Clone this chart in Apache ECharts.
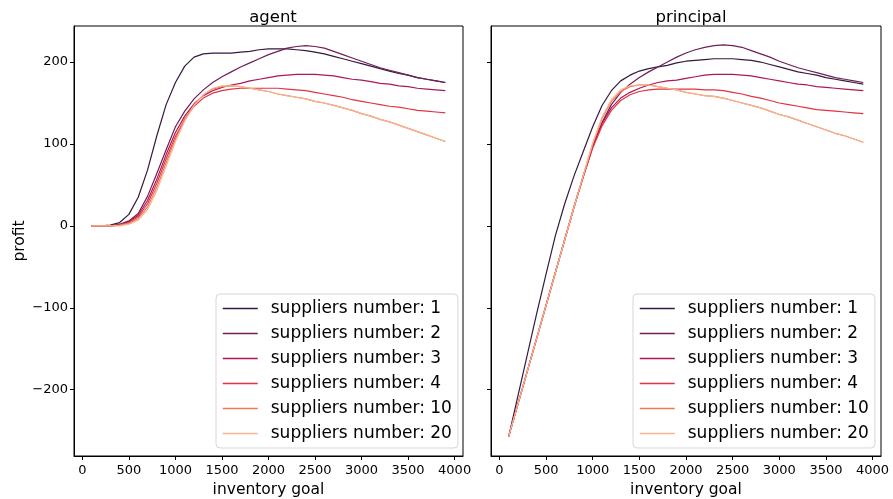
<!DOCTYPE html>
<html>
<head>
<meta charset="utf-8">
<script src="https://cdn.jsdelivr.net/npm/echarts@6/dist/echarts.min.js"></script>
<style>
  html, body { margin: 0; padding: 0; background: #fff; }
  #chart { width: 893px; height: 499px; }
</style>
</head>
<body>
<div id="chart"></div>
<script>
  // inventory goal values (x)
  var goals = [100, 200, 300, 400, 500, 600, 700, 800, 900, 1000, 1100, 1200, 1300, 1400, 1500, 1600, 1700, 1800, 1900, 2000,
    2100, 2200, 2300, 2400, 2500, 2600, 2700, 2800, 2900, 3000, 3100, 3200, 3300, 3400, 3500, 3600, 3700, 3800, 3900];

  var names = ['suppliers number: 1', 'suppliers number: 2', 'suppliers number: 3',
    'suppliers number: 4', 'suppliers number: 10', 'suppliers number: 20'];
  var colors = ['#35193e', '#701f57', '#ad1759', '#e13342', '#f37651', '#f6b48f'];

  // agent profit
  var agent1 = [0, 0, 1, 4, 14, 35, 68, 110, 148, 175, 195, 206, 210, 211, 211, 211, 212, 213, 215, 216,
    216, 216, 215, 214, 212, 210, 207, 204, 201, 198, 195, 192, 189, 186, 184, 181, 179, 177, 175];
  var agent2 = [0, 0, 0, 2, 6, 15, 36, 64, 93, 121, 140, 155, 166, 175, 182, 188, 194, 199, 204, 209,
    213, 217, 219, 220, 219, 217, 213, 209, 205, 201, 197, 193, 190, 187, 184, 181, 179, 177, 175];
  var agent3 = [0, 0, 0, 1, 5, 13, 31, 57, 87, 114, 134, 149, 159, 165, 169, 172, 174, 177, 179, 181,
    183, 184, 185, 185, 185, 184, 183, 181, 179, 178, 176, 174, 173, 171, 170, 168, 167, 166, 165];
  var agent4 = [0, 0, 0, 1, 4, 11, 27, 52, 82, 109, 130, 146, 156, 162, 165, 167, 168, 168, 168, 168,
    168, 167, 166, 165, 163, 161, 159, 157, 154, 152, 150, 148, 146, 145, 143, 141, 140, 139, 138];
  var agent10 = [0, 0, 0, 1, 3, 9, 23, 47, 77, 106, 130, 148, 160, 167, 170, 171, 170, 168, 166, 164,
    161, 159, 157, 155, 152, 150, 147, 144, 141, 137, 134, 130, 127, 123, 119, 115, 111, 107, 103];
  var agent20 = [0, 0, 0, 0, 2, 7, 20, 43, 73, 103, 128, 147, 160, 168, 171, 171, 170, 168, 166, 164,
    161, 159, 157, 155, 152, 150, 147, 144, 141, 137, 134, 130, 127, 123, 119, 115, 111, 107, 103];

  // principal profit
  var principal1 = [-257, -207, -157, -107, -59, -12, 27, 61, 91, 121, 147, 165, 177, 184, 189, 192, 194, 196, 199, 201,
    202, 203, 204, 204, 204, 203, 202, 200, 197, 194, 191, 188, 186, 184, 181, 179, 177, 175, 173];
  var principal2 = [-257, -217, -177, -137, -97, -57, -17, 23, 61, 97, 126, 148, 163, 173, 181, 188, 194, 200, 206, 211,
    215, 218, 220, 221, 220, 218, 214, 210, 206, 201, 197, 193, 190, 187, 184, 181, 179, 177, 175];
  var principal3 = [-257, -217, -177, -137, -97, -57, -17, 23, 61, 97, 125, 144, 156, 163, 168, 172, 175, 177, 178, 180,
    182, 184, 185, 185, 185, 184, 183, 181, 179, 177, 175, 173, 172, 170, 169, 168, 167, 166, 165];
  var principal4 = [-257, -217, -177, -137, -97, -57, -17, 23, 60, 95, 122, 141, 153, 160, 164, 166, 167, 167, 167, 167,
    167, 166, 166, 165, 163, 161, 158, 156, 153, 150, 148, 146, 144, 142, 141, 140, 139, 138, 137];
  var principal10 = [-257, -217, -177, -137, -97, -57, -17, 23, 62, 100, 131, 152, 164, 170, 172, 172, 170, 168, 166, 163,
    161, 159, 158, 156, 153, 150, 147, 144, 140, 136, 133, 129, 125, 121, 117, 113, 110, 106, 102];
  var principal20 = [-257, -217, -177, -137, -97, -57, -17, 23, 62, 101, 133, 154, 166, 171, 172, 172, 170, 168, 166, 163,
    161, 159, 158, 156, 153, 150, 147, 144, 140, 136, 133, 129, 125, 121, 117, 113, 110, 106, 102];

  var xTicks = [0, 500, 1000, 1500, 2000, 2500, 3000, 3500, 4000];
  var yTicks = [-200, -100, 0, 100, 200];

  var agentData = [agent1, agent2, agent3, agent4, agent10, agent20];
  var principalData = [principal1, principal2, principal3, principal4, principal10, principal20];

  var font = 'DejaVu Sans';

  function pairs (vals) {
    return goals.map(function (g, i) { return [g, vals[i]]; });
  }

  function minus (v) {
    return String(v).replace('-', '\u2212');
  }

  function xAxisFor (idx) {
    return {
      type: 'value',
      gridIndex: idx,
      min: -90,
      max: 4090,
      name: 'inventory goal',
      nameLocation: 'middle',
      nameGap: 24,
      nameTextStyle: { fontFamily: font, fontSize: 15.5, color: '#000' },
      axisLine: { show: true, onZero: false, lineStyle: { color: '#000', width: 1 } },
      axisTick: { show: true, length: 4, customValues: xTicks, lineStyle: { color: '#000' } },
      axisLabel: { customValues: xTicks, fontFamily: font, fontSize: 13, color: '#000', margin: 8, formatter: minus },
      splitLine: { show: false }
    };
  }

  function yAxisFor (idx) {
    return {
      type: 'value',
      gridIndex: idx,
      min: -281,
      max: 244,
      name: idx === 0 ? 'profit' : '',
      nameLocation: 'middle',
      nameGap: 45,
      nameRotate: 90,
      nameTextStyle: { fontFamily: font, fontSize: 15.5, color: '#000' },
      axisLine: { show: true, onZero: false, lineStyle: { color: '#000', width: 1 } },
      axisTick: { show: true, length: 4, customValues: yTicks, lineStyle: { color: '#000' } },
      axisLabel: { show: idx === 0, customValues: yTicks, fontFamily: font, fontSize: 13, color: '#000', margin: 6, formatter: minus },
      splitLine: { show: false }
    };
  }

  function legendFor (left, top) {
    return {
      orient: 'vertical',
      left: left,
      top: top,
      data: names,
      itemWidth: 35,
      itemHeight: 14,
      itemGap: 8,
      padding: [6, 6, 6, 6],
      backgroundColor: 'rgba(255,255,255,0.8)',
      borderColor: '#d6d6d6',
      borderWidth: 1,
      borderRadius: 4,
      selectedMode: false,
      itemStyle: { opacity: 0 },
      lineStyle: { width: 1.5 },
      textStyle: { fontFamily: font, fontSize: 17, color: '#000', lineHeight: 14, padding: [0, 0, 0, 8] }
    };
  }

  var series = [];
  names.forEach(function (n, i) {
    series.push({
      name: n, type: 'line', xAxisIndex: 0, yAxisIndex: 0,
      data: pairs(agentData[i]), symbol: 'none', smooth: false,
      lineStyle: { color: colors[i], width: 1.2 }, itemStyle: { color: colors[i] },
      z: 2 + i
    });
    series.push({
      name: n, type: 'line', xAxisIndex: 1, yAxisIndex: 1,
      data: pairs(principalData[i]), symbol: 'none', smooth: false,
      lineStyle: { color: colors[i], width: 1.2 }, itemStyle: { color: colors[i] },
      z: 2 + i
    });
  });

  var myChart = echarts.init(document.getElementById('chart'), null, { renderer: 'canvas' });
  myChart.setOption({
    animation: false,
    backgroundColor: '#fff',
    title: [
      { text: 'agent', left: 268, top: 4, textAlign: 'center', textStyle: { fontFamily: font, fontSize: 16.5, fontWeight: 'normal', color: '#000' } },
      { text: 'principal', left: 686, top: 4, textAlign: 'center', textStyle: { fontFamily: font, fontSize: 16.5, fontWeight: 'normal', color: '#000' } }
    ],
    grid: [
      { left: 74, top: 26, width: 389, height: 430, outerBoundsMode: 'none', show: true, borderColor: '#000', borderWidth: 1, backgroundColor: 'transparent' },
      { left: 491, top: 26, width: 390, height: 430, outerBoundsMode: 'none', show: true, borderColor: '#000', borderWidth: 1, backgroundColor: 'transparent' }
    ],
    xAxis: [xAxisFor(0), xAxisFor(1)],
    yAxis: [yAxisFor(0), yAxisFor(1)],
    legend: [legendFor(216, 294), legendFor(633, 294)],
    series: series
  });
</script>
</body>
</html>
